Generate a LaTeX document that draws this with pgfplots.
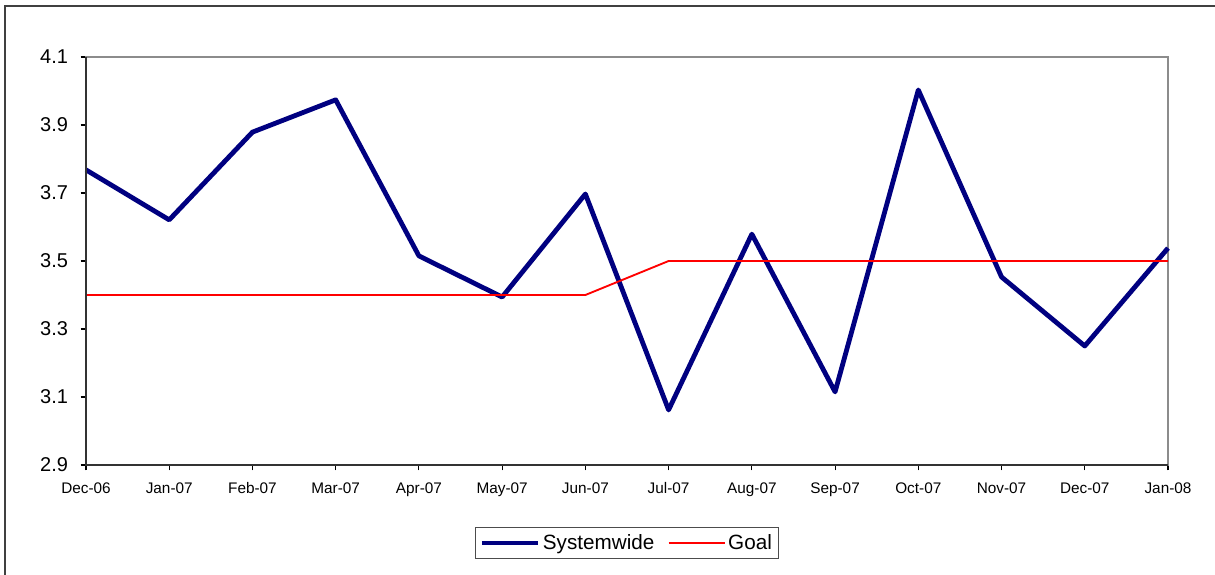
\documentclass[border=0pt]{standalone}
\usepackage{pgfplots}
\pgfplotsset{compat=1.18}
\usepackage{fontspec}
\setmainfont{Liberation Sans}
\definecolor{navyline}{RGB}{0,0,128}
\begin{document}
\begin{tikzpicture}
\useasboundingbox (0pt,0pt) rectangle (911.25pt,431.25pt);
\draw[black!75, line width=0.9pt] (3.75pt,-15pt) -- (3.75pt,426.75pt) -- (930pt,426.75pt);
\begin{axis}[
  at={(64.5pt,82.5pt)}, anchor=origin,
  scale only axis,
  width=811.5pt, height=306pt,
  xmin=0, xmax=13, ymin=2.9, ymax=4.1,
  xtick={0,...,13},
  xticklabels={Dec-06,Jan-07,Feb-07,Mar-07,Apr-07,May-07,Jun-07,Jul-07,Aug-07,Sep-07,Oct-07,Nov-07,Dec-07,Jan-08},
  ytick={2.9,3.1,3.3,3.5,3.7,3.9,4.1},
  yticklabel style={/pgf/number format/fixed,/pgf/number format/fixed zerofill,/pgf/number format/precision=1},
  /pgf/number format/assume math mode=true,
  tick align=outside,
  major tick length=4pt,
  tick style={black, line width=0.8pt},
  xtick pos=bottom, ytick pos=left,
  axis line style={black!45, line width=1pt},
  x tick label style={font=\fontsize{11.5}{13}\selectfont, text height=8.5pt, text depth=2pt, yshift=-5pt},
  y tick label style={font=\fontsize{15}{17}\selectfont, xshift=-6pt},
  legend style={at={(0.5,-0.191)}, anchor=center, draw=black!70, line width=0.8pt,
    font=\fontsize{15.5}{18}\selectfont, legend columns=2,
    /tikz/every even column/.append style={column sep=8pt},
    inner sep=3pt},
  legend image code/.code={\draw[#1] (0pt,0pt) -- (42pt,0pt);},
  clip=false,
  after end axis/.code={
    \draw[black!80, line width=1pt] (rel axis cs:0,1) -- (rel axis cs:0,0) -- (rel axis cs:1,0);
  },
]
\addplot[navyline, line width=3.6pt, line join=round] coordinates {
(0,3.768) (1,3.621) (2,3.879) (3,3.974) (4,3.515) (5,3.394) (6,3.697)
(7,3.062) (8,3.579) (9,3.115) (10,4.003) (11,3.453) (12,3.250) (13,3.538)};
\addlegendentry{Systemwide}
\addplot[red, line width=1.4pt] coordinates {
(0,3.4) (1,3.4) (2,3.4) (3,3.4) (4,3.4) (5,3.4) (6,3.4)
(7,3.5) (8,3.5) (9,3.5) (10,3.5) (11,3.5) (12,3.5) (13,3.5)};
\addlegendentry{Goal}
\end{axis}
\end{tikzpicture}
\end{document}
